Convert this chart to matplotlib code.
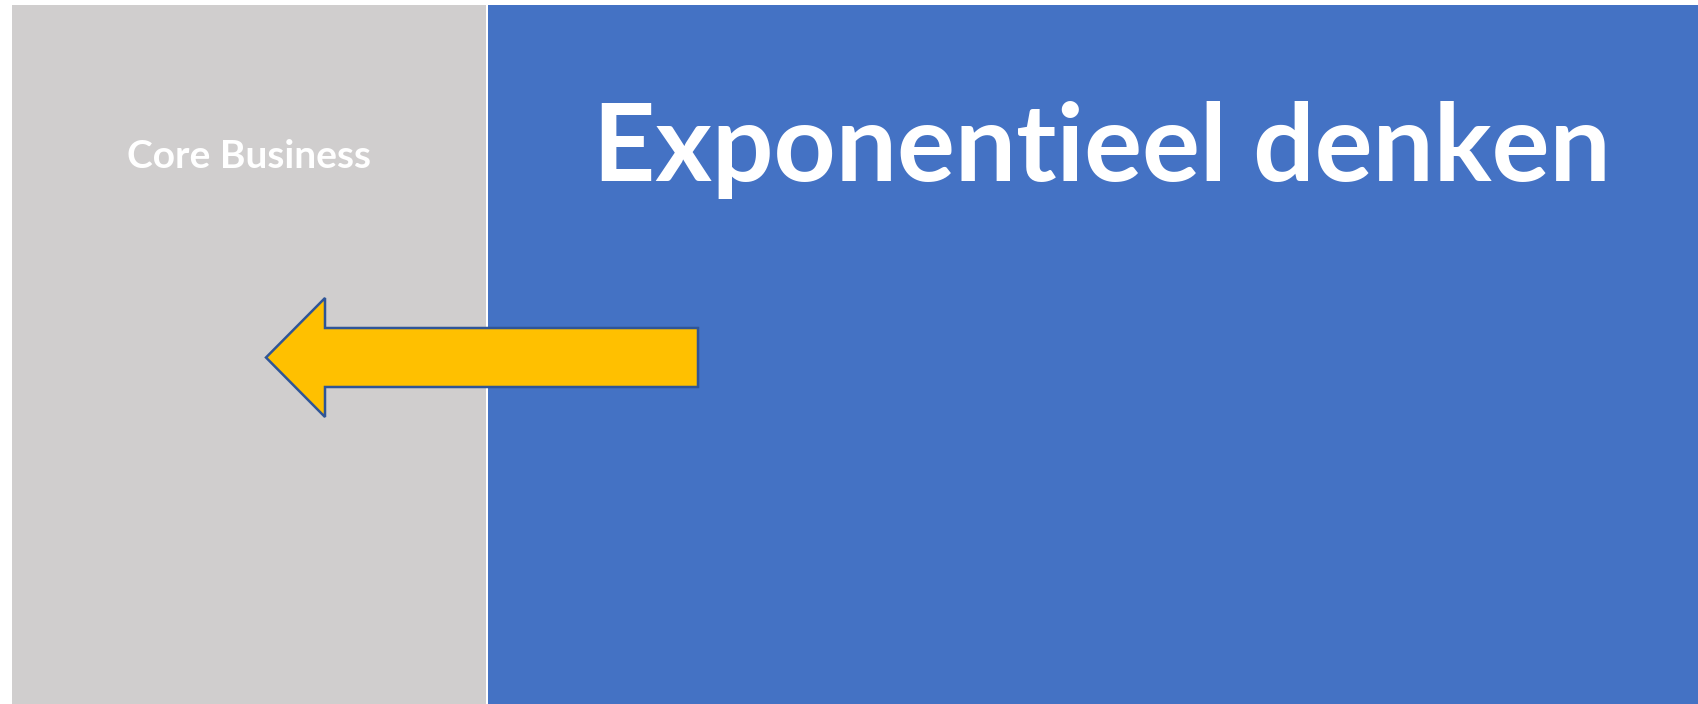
import matplotlib.pyplot as plt
from matplotlib.patches import Rectangle, FancyArrow

# panels (pixel units, y measured from the top)
panel_names = ['Core Business', 'Exponentieel denken']
panel_left = [12, 488]
panel_right = [486, 1698]
panel_top = 5
panel_colors = ['#D0CECE', '#4472C4']

# arrow: from the blue panel back into the grey one
arrow_start = 698
arrow_tip = 266
arrow_y = 357.5
shaft_width = 59
head_width = 119
head_length = 59

W, H = 1698, 704
fig = plt.figure(figsize=(W / 100, H / 100), dpi=100)
ax = fig.add_axes([0, 0, 1, 1])
ax.set_xlim(0, W)
ax.set_ylim(H, 0)
ax.axis('off')

for left, right, c in zip(panel_left, panel_right, panel_colors):
    ax.add_patch(Rectangle((left, panel_top), right - left, H - panel_top,
                           facecolor=c, edgecolor='none'))

ax.add_patch(FancyArrow(arrow_start, arrow_y, arrow_tip - arrow_start, 0,
                        width=shaft_width, head_width=head_width,
                        head_length=head_length, length_includes_head=True,
                        facecolor='#FFC000', edgecolor='#2F5597', linewidth=1.8))

ax.text(249, 168, panel_names[0], color='white', fontsize=28, fontweight='bold',
        family='Lato', ha='center', va='baseline')
ax.text(1102, 181, panel_names[1], color='white', fontsize=78, fontweight='bold',
        family='Lato', ha='center', va='baseline')

fig.savefig('out.png', dpi=100)
